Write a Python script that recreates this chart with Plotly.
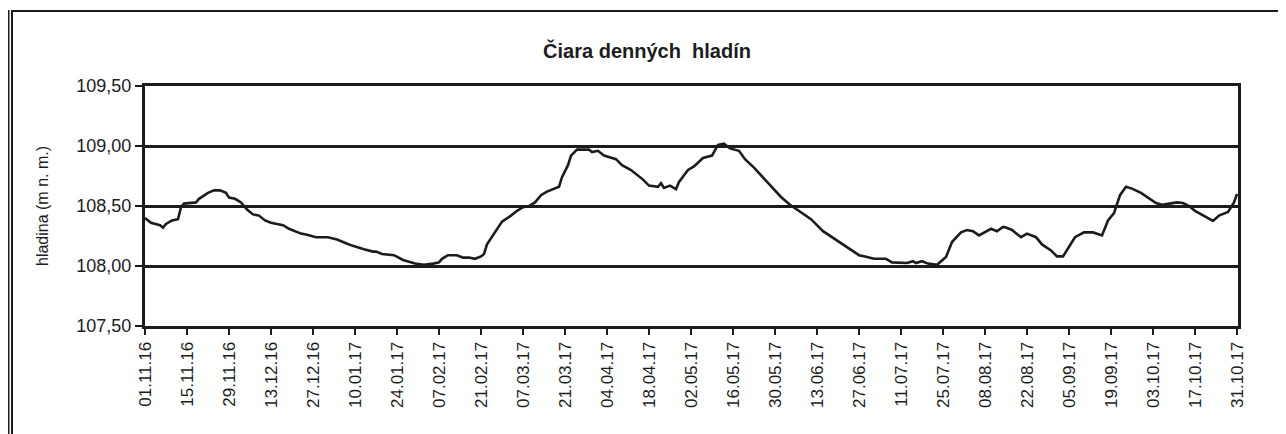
import plotly.graph_objects as go

# denné hladiny (odčítané z grafu)
dates = [
    "2016-11-01", "2016-11-03", "2016-11-06", "2016-11-07", "2016-11-08", "2016-11-10",
    "2016-11-12", "2016-11-13", "2016-11-14", "2016-11-18", "2016-11-19", "2016-11-22",
    "2016-11-24", "2016-11-26", "2016-11-28", "2016-11-29", "2016-12-01", "2016-12-03",
    "2016-12-05", "2016-12-07", "2016-12-09", "2016-12-11", "2016-12-13", "2016-12-15",
    "2016-12-17", "2016-12-19", "2016-12-23", "2016-12-25", "2016-12-28", "2017-01-01",
    "2017-01-04", "2017-01-07", "2017-01-09", "2017-01-13", "2017-01-16", "2017-01-17",
    "2017-01-19", "2017-01-23", "2017-01-26", "2017-01-30", "2017-02-02", "2017-02-05",
    "2017-02-07", "2017-02-08", "2017-02-10", "2017-02-13", "2017-02-15", "2017-02-17",
    "2017-02-19", "2017-02-21", "2017-02-22", "2017-02-23", "2017-02-26", "2017-02-28",
    "2017-03-03", "2017-03-05", "2017-03-07", "2017-03-09", "2017-03-11", "2017-03-13",
    "2017-03-15", "2017-03-19", "2017-03-20", "2017-03-22", "2017-03-23", "2017-03-25",
    "2017-03-29", "2017-03-30", "2017-04-01", "2017-04-03", "2017-04-07", "2017-04-09",
    "2017-04-12", "2017-04-14", "2017-04-16", "2017-04-18", "2017-04-21", "2017-04-22",
    "2017-04-23", "2017-04-25", "2017-04-27", "2017-04-28", "2017-05-01", "2017-05-03",
    "2017-05-06", "2017-05-09", "2017-05-11", "2017-05-13", "2017-05-15", "2017-05-18",
    "2017-05-20", "2017-05-23", "2017-05-26", "2017-05-29", "2017-06-01", "2017-06-04",
    "2017-06-07", "2017-06-11", "2017-06-15", "2017-06-18", "2017-06-22", "2017-06-25",
    "2017-06-27", "2017-06-29", "2017-07-02", "2017-07-04", "2017-07-06", "2017-07-08",
    "2017-07-11", "2017-07-13", "2017-07-15", "2017-07-16", "2017-07-18", "2017-07-20",
    "2017-07-23", "2017-07-26", "2017-07-28", "2017-07-31", "2017-08-02", "2017-08-04",
    "2017-08-06", "2017-08-09", "2017-08-10", "2017-08-12", "2017-08-14", "2017-08-15",
    "2017-08-17", "2017-08-20", "2017-08-22", "2017-08-25", "2017-08-27", "2017-08-30",
    "2017-09-01", "2017-09-03", "2017-09-05", "2017-09-07", "2017-09-10", "2017-09-13",
    "2017-09-16", "2017-09-18", "2017-09-20", "2017-09-22", "2017-09-24", "2017-09-26",
    "2017-09-29", "2017-10-02", "2017-10-04", "2017-10-06", "2017-10-09", "2017-10-11",
    "2017-10-13", "2017-10-15", "2017-10-17", "2017-10-20", "2017-10-23", "2017-10-25",
    "2017-10-28", "2017-10-30", "2017-10-31",
]
hladina = [
    108.40, 108.36, 108.34, 108.32, 108.35, 108.38,
    108.39, 108.49, 108.52, 108.53, 108.56, 108.61,
    108.63, 108.63, 108.61, 108.57, 108.56, 108.53,
    108.47, 108.43, 108.42, 108.38, 108.36, 108.35,
    108.34, 108.31, 108.27, 108.26, 108.24, 108.24,
    108.22, 108.19, 108.17, 108.14, 108.12, 108.12,
    108.10, 108.09, 108.05, 108.02, 108.01, 108.02,
    108.03, 108.06, 108.09, 108.09, 108.07, 108.07,
    108.06, 108.08, 108.10, 108.18, 108.30, 108.37,
    108.42, 108.46, 108.49, 108.50, 108.53, 108.59,
    108.62, 108.66, 108.74, 108.84, 108.92, 108.97,
    108.97, 108.95, 108.96, 108.92, 108.89, 108.84,
    108.80, 108.76, 108.72, 108.67, 108.66, 108.69,
    108.65, 108.67, 108.64, 108.70, 108.80, 108.83,
    108.90, 108.92, 109.01, 109.02, 108.98, 108.96,
    108.89, 108.82, 108.74, 108.66, 108.575, 108.51,
    108.46, 108.39, 108.29, 108.24, 108.17, 108.12,
    108.09, 108.08, 108.06, 108.06, 108.06, 108.03,
    108.025, 108.025, 108.04, 108.025, 108.04, 108.02,
    108.01, 108.075, 108.20, 108.28, 108.30, 108.29,
    108.255, 108.30, 108.31, 108.29, 108.325, 108.32,
    108.30, 108.24, 108.27, 108.24, 108.18, 108.13,
    108.08, 108.08, 108.16, 108.24, 108.28, 108.28,
    108.255, 108.38, 108.44, 108.59, 108.66, 108.645,
    108.61, 108.56, 108.525, 108.51, 108.525, 108.53,
    108.525, 108.50, 108.46, 108.42, 108.375, 108.42,
    108.45, 108.53, 108.60,
]

tick_dates = [
    "2016-11-01", "2016-11-15", "2016-11-29", "2016-12-13", "2016-12-27", "2017-01-10",
    "2017-01-24", "2017-02-07", "2017-02-21", "2017-03-07", "2017-03-21", "2017-04-04",
    "2017-04-18", "2017-05-02", "2017-05-16", "2017-05-30", "2017-06-13", "2017-06-27",
    "2017-07-11", "2017-07-25", "2017-08-08", "2017-08-22", "2017-09-05", "2017-09-19",
    "2017-10-03", "2017-10-17", "2017-10-31",
]
tick_labels = [d[8:10] + "." + d[5:7] + "." + d[2:4] for d in tick_dates]
y_ticks = [107.5, 108.0, 108.5, 109.0, 109.5]

ink = "#1c1c1c"
font = "Liberation Sans, Arial, sans-serif"

fig = go.Figure()
fig.add_trace(go.Scatter(
    x=dates, y=hladina, mode="lines",
    line=dict(color=ink, width=2.6),
    showlegend=False, hoverinfo="x+y",
))

# stránka má okraj 8 px, preto je všetko posunuté o 8 px
W, L = 1093.0, 137.0
H, T = 240.0, 78.0
def px(x):
    return (x - L) / W
def py(y):
    return 1 - (y - T) / H

# rámček okolo celého grafu
frame = dict(type="line", xref="paper", yref="paper", line=dict(color=ink, width=2))
fig.add_shape(frame, x0=px(0.5), x1=px(0.5), y0=py(2), y1=py(440))
fig.add_shape(frame, x0=px(4), x1=px(4), y0=py(3), y1=py(440))
fig.add_shape(frame, x0=px(3), x1=px(1276.5), y0=py(3), y1=py(3))
fig.add_shape(frame, x0=px(1276.5), x1=px(1276.5), y0=py(3), y1=py(440))

fig.update_layout(
    width=1278, height=426,
    paper_bgcolor="white", plot_bgcolor="white",
    margin=dict(l=137, r=48, t=78, b=108),
    separators=", ",
    font=dict(family=font, color=ink, size=17),
    title=dict(
        text="<b>Čiara denných  hladín</b>",
        x=0.5, xref="container", xanchor="center",
        y=0.899, yref="container", yanchor="middle",
        font=dict(size=20, family=font, color=ink),
    ),
    xaxis=dict(
        type="date",
        range=["2016-11-01", "2017-10-31 08:00"],
        tickvals=tick_dates, ticktext=tick_labels,
        tickangle=-90, ticks="outside", ticklen=6, tickwidth=2, tickcolor=ink,
        showgrid=False, zeroline=False,
        showline=True, linecolor=ink, linewidth=3, mirror=True,
        tickfont=dict(size=17, family=font, color=ink),
    ),
    yaxis=dict(
        range=[107.5, 109.5],
        tickvals=y_ticks, tickformat=".2f",
        ticks="outside", ticklen=7, tickwidth=2, tickcolor=ink,
        showgrid=True, gridcolor=ink, gridwidth=2.5,
        zeroline=False,
        showline=True, linecolor=ink, linewidth=3, mirror=True,
        tickfont=dict(size=18, family=font, color=ink),
        title=dict(text="hladina (m n. m.)", standoff=24,
                   font=dict(size=16, family=font, color=ink)),
    ),
)

fig.write_html("out.html")
